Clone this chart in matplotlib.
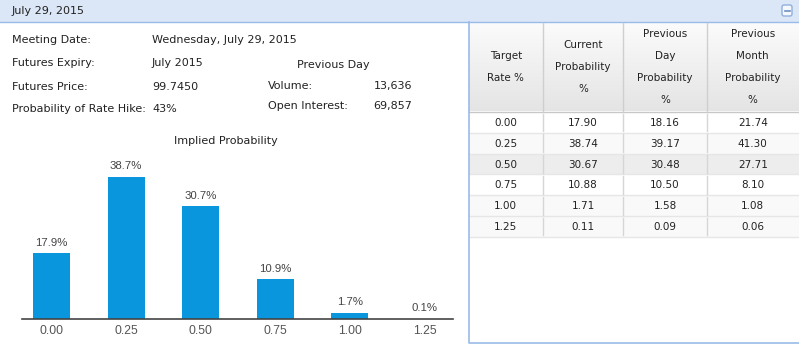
import numpy as np
import matplotlib
matplotlib.use("Agg")
import matplotlib.pyplot as plt
from matplotlib.patches import Rectangle, FancyBboxPatch

# ---- data ----
rates = ["0.00", "0.25", "0.50", "0.75", "1.00", "1.25"]
current = [17.90, 38.74, 30.67, 10.88, 1.71, 0.11]
prev_day = [18.16, 39.17, 30.48, 10.50, 1.58, 0.09]
prev_month = [21.74, 41.30, 27.71, 8.10, 1.08, 0.06]
header_cols = ["Target\nRate %", "Current\nProbability\n%", "Previous\nDay\nProbability\n%",
               "Previous\nMonth\nProbability\n%"]
info_left = [("Meeting Date:", "Wednesday, July 29, 2015"),
             ("Futures Expiry:", "July 2015"),
             ("Futures Price:", "99.7450"),
             ("Probability of Rate Hike:", "43%")]
info_right = [("Volume:", "13,636"), ("Open Interest:", "69,857")]
panel_title = "July 29, 2015"
chart_title = "Implied Probability"

W, H = 799, 344
fig = plt.figure(figsize=(W / 100, H / 100), dpi=100)
bg = fig.add_axes([0, 0, 1, 1])
bg.set_xlim(0, W)
bg.set_ylim(H, 0)
bg.axis("off")

TXT = "#222222"
UI_FONT = "DejaVu Sans"
fs = 8

# header bar
bg.add_patch(Rectangle((0, 0), W, 22, color="#dbe6f6", lw=0))
bg.plot([0, W], [22, 22], color="#99bbe8", lw=1)
bg.text(12, 11, panel_title, fontsize=fs, family=UI_FONT, color=TXT, va="center")
bg.add_patch(FancyBboxPatch((782, 5), 10, 11, boxstyle="round,pad=0,rounding_size=2",
                            fc="#f4f8fd", ec="#8fb0dc", lw=1))
bg.plot([784.5, 789.5], [10.5, 10.5], color="#6d8fc0", lw=1.2)

# info panel
ys = [40, 63, 87, 109]
for (lab, val), y in zip(info_left, ys):
    bg.text(12, y, lab, fontsize=fs, family=UI_FONT, color=TXT, va="center")
    bg.text(152, y, val, fontsize=fs, family=UI_FONT, color=TXT, va="center")
bg.text(333, 65, "Previous Day", fontsize=fs, family=UI_FONT, color=TXT, va="center", ha="center")
for (lab, val), y in zip(info_right, [86, 106]):
    bg.text(268, y, lab, fontsize=fs, family=UI_FONT, color=TXT, va="center")
    bg.text(412, y, val, fontsize=fs, family=UI_FONT, color=TXT, va="center", ha="right")

# table
tx0, tx1 = 468.5, 798.5
col_edges = [468.5, 543, 623, 707, 798.5]
# header gradient
grad = np.linspace(0.985, 0.895, 100).reshape(-1, 1)
grad = np.repeat(grad, 2, axis=1)
bg.imshow(np.dstack([grad, grad, grad]), extent=[tx0, tx1, 111, 23], aspect="auto", zorder=1)
bg.set_xlim(0, W)
bg.set_ylim(H, 0)
bg.plot([tx0, tx1], [111.5, 111.5], color="#c8c8c8", lw=1, zorder=3)
for cx in col_edges[1:-1]:
    bg.plot([cx, cx], [23, 111], color="#cfcfcf", lw=1, zorder=3)
hdr_y = {2: [56, 78], 3: [45, 67, 89], 4: [34, 56, 78, 100]}
for i, h in enumerate(header_cols):
    lines = h.split("\n")
    cxm = (col_edges[i] + col_edges[i + 1]) / 2
    for line, y in zip(lines, hdr_y[len(lines)]):
        bg.text(cxm, y, line, fontsize=7.5, family=UI_FONT, color=TXT, ha="center", va="center", zorder=4)

row_top = 112
rh = 20.8
row_bg = ["#ffffff", "#f9f9f9", "#ededed", "#ffffff", "#f9f9f9", "#f9f9f9"]
for r in range(len(rates)):
    y0 = row_top + r * rh
    bg.add_patch(Rectangle((tx0, y0), tx1 - tx0, rh, color=row_bg[r], lw=0, zorder=1))
    bg.plot([tx0, tx1], [y0 + rh, y0 + rh], color="#e6e6e6", lw=1, zorder=2)
    for cx in col_edges[1:-1]:
        bg.plot([cx, cx], [y0 + 1.5, y0 + rh - 1.5], color="#d6d6d6", lw=1, zorder=2)
    vals = [rates[r], f"{current[r]:.2f}", f"{prev_day[r]:.2f}", f"{prev_month[r]:.2f}"]
    for i, v in enumerate(vals):
        cxm = (col_edges[i] + col_edges[i + 1]) / 2
        bg.text(cxm, y0 + rh / 2 + 0.5, v, fontsize=7.5, family=UI_FONT, color=TXT,
                ha="center", va="center", zorder=4)
# table border
bg.plot([tx0, tx0, tx1], [22, 343, 343], color="#99bbe8", lw=1.2, zorder=5)

# chart
bg.text(225.5, 141, chart_title, fontsize=fs, family=UI_FONT, color=TXT, ha="center", va="center")

px0, px1 = 22, 453
base_y, top_y = 319, 160
c0, sp = 51.5, 74.6
ppu = 3.67
xl = ((px0 - c0) / sp, (px1 - c0) / sp)
yl = (0, (base_y - top_y) / ppu)
ax = fig.add_axes([px0 / W, (H - base_y) / H, (px1 - px0) / W, (base_y - top_y) / H])
ax.patch.set_alpha(0)
x = np.arange(len(rates))
bars = ax.bar(x, current, width=37 / sp, color="#0996dc", zorder=2)
for xi, v in zip(x, current):
    ax.annotate(f"{v:.1f}%", (xi, v), xytext=(0, 4), textcoords="offset points",
                ha="center", va="bottom", fontsize=8.2, family="Liberation Sans", color="#444444")
ax.set_xlim(*xl)
ax.set_ylim(*yl)
ax.set_xticks(x)
ax.set_xticklabels(rates, fontsize=8.8, family="Liberation Sans", color="#555555")
ax.tick_params(axis="x", length=0, pad=4)
ax.set_yticks([])
for s in ["top", "right", "left"]:
    ax.spines[s].set_visible(False)
ax.spines["bottom"].set_color("#444444")
ax.spines["bottom"].set_linewidth(1.2)

fig.savefig("out.png", dpi=100)
